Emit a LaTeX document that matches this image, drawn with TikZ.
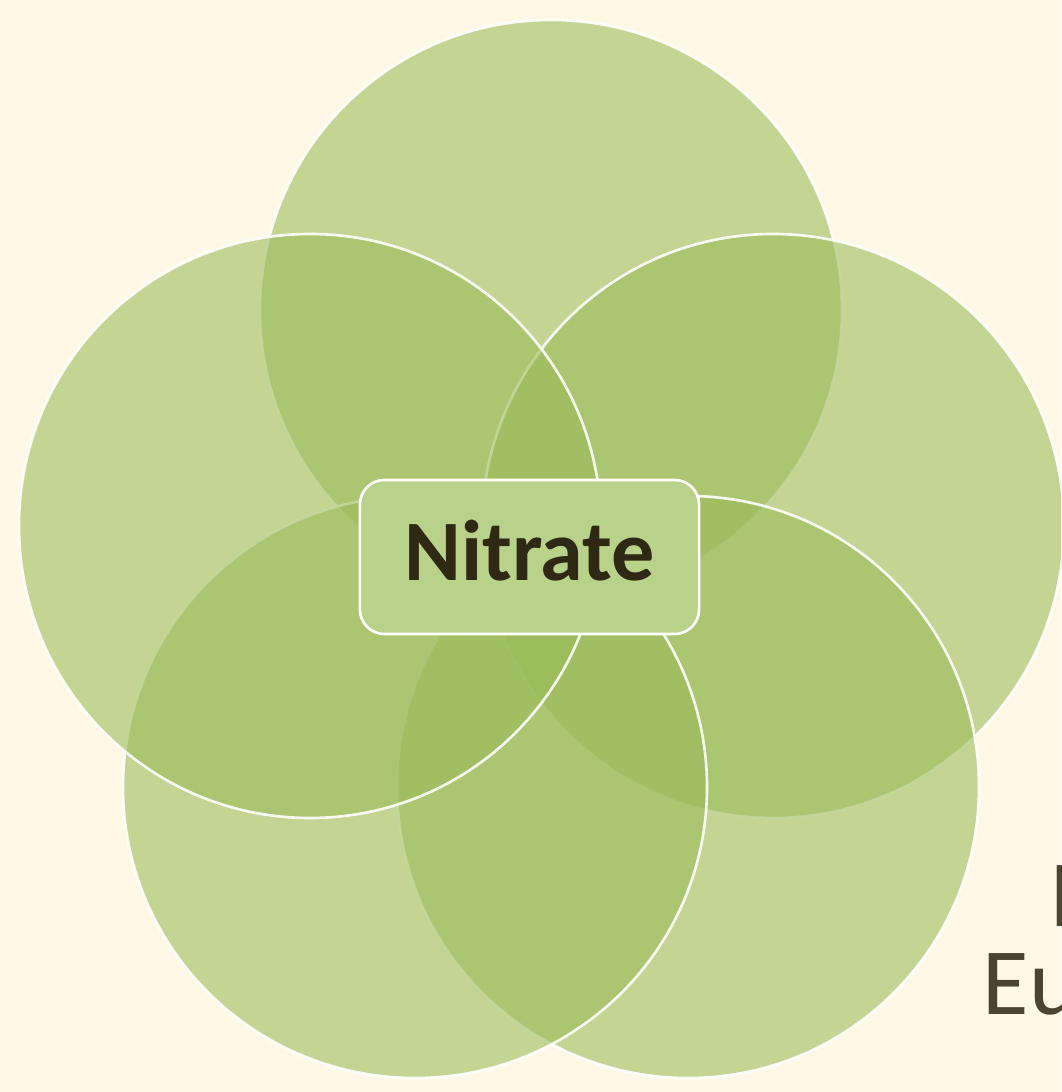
\documentclass[tikz,border=0pt]{standalone}
\usepackage{fontspec}
\setmainfont{Carlito}
\definecolor{paper}{HTML}{FFF8E7}
\definecolor{leaf}{HTML}{9BBB59}
\definecolor{boxfill}{HTML}{B8D28A}
\definecolor{ink}{HTML}{2F2815}
\definecolor{outerink}{HTML}{4B4431}
\tikzset{
  petal/.style={fill=leaf, fill opacity=0.59, draw=white, draw opacity=0.9, line width=0.75pt},
  centerbox/.style={draw=white, line width=0.75pt, fill=boxfill, rounded corners=7pt,
    minimum width=3.39cm, minimum height=1.54cm, text=ink, text depth=0.14cm,
    font=\fontsize{24.5}{29}\selectfont\bfseries},
  sidetext/.style={text=outerink, inner sep=0pt, font=\fontsize{27}{32}\selectfont}
}
\begin{document}
\begin{tikzpicture}[x=0.01cm,y=-0.01cm]
    \useasboundingbox (0,0) rectangle (1061,1092);
    \clip (0,0) rectangle (1061,1092);
    \fill[paper] (0,0) rectangle (1061,1092);
    % text behind the petals, cut at the edges
    \node[sidetext, anchor=base west] (line1) at (1049,926) {I};
    \node[sidetext, anchor=base west] (line2) at (982,1014) {Eu};
    \node[sidetext, anchor=base east] (leftword) at (3,1010) {a};
    % petals, clockwise from the top
    \path[petal] (551,310) ellipse [x radius=291, y radius=290];
    \path[petal] (773,526) ellipse [x radius=291, y radius=292];
    \path[petal] (688,787) ellipse [x radius=291, y radius=291];
    \path[petal] (415,787) ellipse [x radius=292, y radius=291];
    \path[petal] (310,526) ellipse [x radius=291, y radius=292];
    \node[centerbox] (nitrate) at (529.5,557) {Nitrate};
\end{tikzpicture}
\end{document}
